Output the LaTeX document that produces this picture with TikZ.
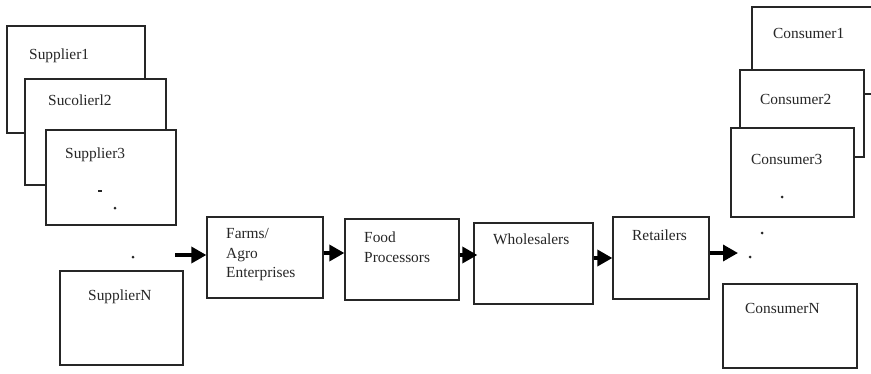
\documentclass[tikz,border=0pt]{standalone}
\usepackage{fontspec}
\setmainfont{Liberation Serif}
\usetikzlibrary{arrows.meta}
\begin{document}
\begin{tikzpicture}[x=1pt,y=-1pt,
  box/.style={draw=black!85,line width=1.3pt,fill=white},
  txt/.style={inner sep=0pt,anchor=base west,font=\fontsize{15.4}{19}\selectfont,text=black!85},
  flow/.style={line width=3.4pt,-{Triangle[length=15pt,width=16pt]}},
  dot/.style={fill=black!85,circle,inner sep=0pt,minimum size=3pt}]
\clip (0,0) rectangle (871,373);
\fill[white] (0,0) rectangle (871,373);
% suppliers, stacked
\draw[box] (7,26) rectangle (145,133);
\node[txt] (s1) at (29,59) {Supplier1};
\draw[box] (25,79) rectangle (166,185);
\node[txt] (s2) at (48,105) {Sucolierl2};
\draw[box] (46,130) rectangle (176,225);
\node[txt] (s3) at (65,158) {Supplier3};
\draw[black!85,line width=1.2pt] (98,191) -- (102,191);
\node[dot] (sd1) at (115,208) {};
\node[dot] (sd2) at (133,257) {};
\draw[box] (60,271) rectangle (183,365);
\node[txt] (sn) at (88,300) {SupplierN};
% chain stages
\node[box,minimum width=116pt,minimum height=81pt,inner sep=0pt] (farms) at (265,257.5) {};
\node[txt] (fa1) at (226,238) {Farms/};
\node[txt] (fa2) at (226,258) {Agro};
\node[txt] (fa3) at (226,277) {Enterprises};
\node[box,minimum width=114pt,minimum height=81pt,inner sep=0pt] (food) at (402,259.5) {};
\node[txt] (fo1) at (364,242) {Food};
\node[txt] (fo2) at (364,262) {Processors};
\node[box,minimum width=119pt,minimum height=81pt,inner sep=0pt] (whole) at (533.5,263.5) {};
\node[txt] (wh) at (493,244) {Wholesalers};
\node[box,minimum width=96pt,minimum height=82pt,inner sep=0pt] (retail) at (661,258) {};
\node[txt] (re) at (632,240) {Retailers};
% consumers, stacked
\draw[box] (752,7) rectangle (890,94);
\node[txt] (c1) at (773,38) {Consumer1};
\draw[box] (740,70) rectangle (864,157);
\node[txt] (c2) at (760,104) {Consumer2};
\draw[box] (731,128) rectangle (854,217);
\node[txt] (c3) at (751,164) {Consumer3};
\node[dot] (cd1) at (782,197) {};
\node[dot] (cd2) at (762,233) {};
\node[dot] (cd3) at (750,257) {};
\draw[box] (723,284) rectangle (857,368);
\node[txt] (cn) at (745,313) {ConsumerN};
% flow arrows
\coordinate (in) at (175,255);
\coordinate (out) at (738,253);
\draw[flow] (in) -- (in -| farms.west);
\draw[flow] (farms.east |- 0,253) -- (food.west |- 0,253);
\draw[flow] (food.east |- 0,255) -- ([xshift=4pt]whole.west |- 0,255);
\draw[flow] (whole.east |- 0,258) -- (retail.west |- 0,258);
\draw[flow] (retail.east |- out) -- (out);
\end{tikzpicture}
\end{document}
